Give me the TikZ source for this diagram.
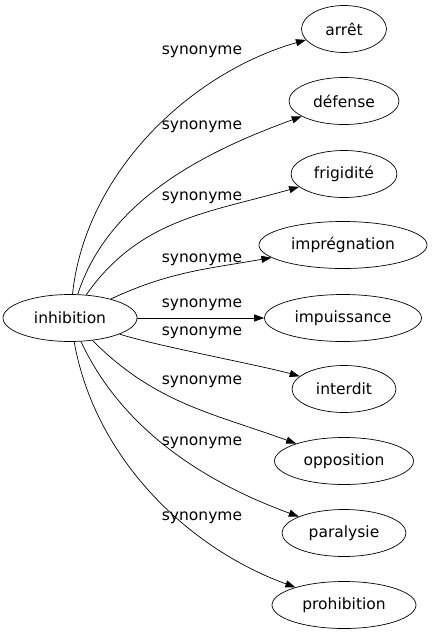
\documentclass[tikz,border=0pt]{standalone}
\usepackage{fontspec}
\setmainfont{DejaVu Sans}
\usetikzlibrary{shapes.geometric,arrows.meta}

\tikzset{
  mot/.style={draw,ellipse,line width=0.7pt,minimum height=47pt,inner sep=0pt,font=\fontsize{15.5}{18}\selectfont},
  syn/.style={font=\fontsize{15.5}{18}\selectfont,inner sep=0pt},
  lien/.style={line width=0.7pt,-{Triangle[length=10pt,width=7pt]}},
}

\begin{document}
\begin{tikzpicture}[x=1pt,y=-1pt]
\useasboundingbox (0,0) rectangle (434,635);

\node[mot,minimum width=134pt] (inhibition) at (70,318) {inhibition};

\node[mot,minimum width=85pt] (arret) at (344,29) {arrêt};
\node[mot,minimum width=110pt] (defense) at (344,101) {défense};
\node[mot,minimum width=106pt] (frigidite) at (344,174) {frigidité};
\node[mot,minimum width=168pt] (impregnation) at (343,245) {imprégnation};
\node[mot,minimum width=157pt] (impuissance) at (343,318) {impuissance};
\node[mot,minimum width=104pt] (interdit) at (344,389) {interdit};
\node[mot,minimum width=139pt] (opposition) at (344,461) {opposition};
\node[mot,minimum width=124pt] (paralysie) at (344,533) {paralysie};
\node[mot,minimum width=144pt] (prohibition) at (344,605) {prohibition};

% les aretes
\draw[lien] (inhibition) to[out=84,in=196,looseness=0.9] (arret);
\draw[lien] (inhibition) to[out=72,in=200,looseness=0.9] (defense);
\draw[lien] (inhibition) to[out=55,in=196] (frigidite);
\draw[lien] (inhibition) to[out=25,in=190] (impregnation);
\draw[lien] (inhibition) -- (impuissance);
\draw[lien] (inhibition) to[out=-18,in=164,looseness=0.5] (interdit);
\draw[lien] (inhibition) to[out=-45,in=160] (opposition);
\draw[lien] (inhibition) to[out=-65,in=160,looseness=0.9] (paralysie);
\draw[lien] (inhibition) to[out=-80,in=160,looseness=0.9] (prohibition);

% les etiquettes
\node[syn] (s1) at (202,52) {synonyme};
\node[syn] (s2) at (202,127) {synonyme};
\node[syn] (s3) at (202,198) {synonyme};
\node[syn] (s4) at (202,260) {synonyme};
\node[syn] (s5) at (202,305) {synonyme};
\node[syn] (s6) at (202,333) {synonyme};
\node[syn] (s7) at (202,382) {synonyme};
\node[syn] (s8) at (202,443) {synonyme};
\node[syn] (s9) at (202,518) {synonyme};
\end{tikzpicture}
\end{document}
